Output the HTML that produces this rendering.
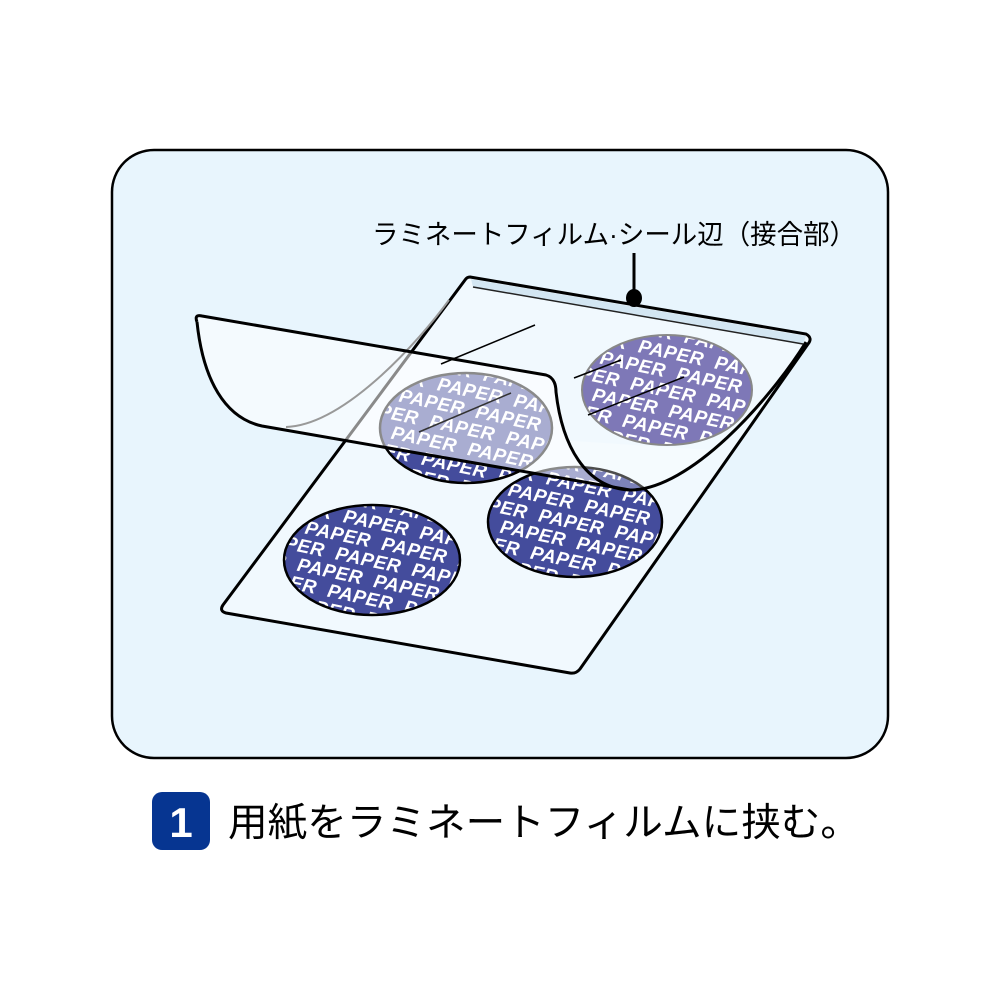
<!DOCTYPE html>
<html><head><meta charset="utf-8"><style>
html,body{margin:0;padding:0;background:#fff;}
svg{display:block;}
.pp{font-family:"Liberation Sans",sans-serif;font-weight:bold;font-style:italic;font-size:19px;fill:#fff;letter-spacing:0.5px;}
</style></head><body>
<svg width="1000" height="1000" viewBox="0 0 1000 1000" xmlns="http://www.w3.org/2000/svg">
<defs>
<clipPath id="c1"><ellipse cx="466" cy="428" rx="86" ry="55"/></clipPath>
<clipPath id="c2"><ellipse cx="667" cy="390" rx="85" ry="55"/></clipPath>
<clipPath id="c3"><ellipse cx="372" cy="560" rx="88" ry="55"/></clipPath>
<clipPath id="c4"><ellipse cx="575" cy="522" rx="87" ry="55"/></clipPath>
<g id="rows">
<text x="-150" y="-50">PAPER&#160;&#160;PAPER&#160;&#160;PAPER&#160;&#160;PAPER</text>
<text x="-115" y="-31">PAPER&#160;&#160;PAPER&#160;&#160;PAPER&#160;&#160;PAPER</text>
<text x="-150" y="-12">PAPER&#160;&#160;PAPER&#160;&#160;PAPER&#160;&#160;PAPER</text>
<text x="-115" y="7">PAPER&#160;&#160;PAPER&#160;&#160;PAPER&#160;&#160;PAPER</text>
<text x="-150" y="26">PAPER&#160;&#160;PAPER&#160;&#160;PAPER&#160;&#160;PAPER</text>
<text x="-115" y="45">PAPER&#160;&#160;PAPER&#160;&#160;PAPER&#160;&#160;PAPER</text>
<text x="-150" y="64">PAPER&#160;&#160;PAPER&#160;&#160;PAPER&#160;&#160;PAPER</text>
</g>
</defs>
<rect x="112" y="150" width="776" height="608" rx="42" fill="#e8f5fd" stroke="#000" stroke-width="2.5"/>
<text x="372" y="244" font-family="'Liberation Sans','Noto Sans CJK JP',sans-serif" font-size="27" textLength="484" lengthAdjust="spacingAndGlyphs">ラミネートフィルム·シール辺（接合部）</text>
<path d="M470,277 L806,334 Q813,338 808,344 L580,669 Q576,674 570,673 L226,613 Q219,611 223,605 L465,280 Q467,277 470,277 Z" fill="#f1f9fe" stroke="#000" stroke-width="3"/>
<path d="M471,279 L806,336 L803,344 L473,287 Z" fill="#d3e6f2"/>
<line x1="473" y1="287" x2="803" y2="344" stroke="#222" stroke-width="1.5"/>
<ellipse cx="372" cy="560" rx="88" ry="55" fill="#444c9c"/>
<g clip-path="url(#c3)"><g transform="translate(372 560) rotate(12)" class="pp"><use href="#rows"/></g></g>
<ellipse cx="372" cy="560" rx="88" ry="55" fill="none" stroke="#000" stroke-width="2.5"/>
<ellipse cx="575" cy="522" rx="87" ry="55" fill="#444c9c"/>
<g clip-path="url(#c4)"><g transform="translate(575 522) rotate(12)" class="pp"><use href="#rows"/></g></g>
<ellipse cx="575" cy="522" rx="87" ry="55" fill="none" stroke="#000" stroke-width="2.5"/>
<ellipse cx="466" cy="428" rx="86" ry="55" fill="#444c9c"/>
<g clip-path="url(#c1)"><g transform="translate(466 428) rotate(12)" class="pp"><use href="#rows"/></g></g>
<ellipse cx="466" cy="428" rx="86" ry="55" fill="none" stroke="#000" stroke-width="2.5"/>
<ellipse cx="667" cy="390" rx="85" ry="55" fill="#7e78b7"/>
<g clip-path="url(#c2)"><g transform="translate(667 390) rotate(12)" class="pp"><use href="#rows"/></g></g>
<ellipse cx="667" cy="390" rx="85" ry="55" fill="none" stroke="#888" stroke-width="2"/>
<path d="M556,392 C562,445 585,488 630,490 C660,490 690,470 710,450 L560,440 Z" fill="#fff" fill-opacity="0.3"/>
<path d="M197,316 L546,375 Q556,378 556,392 C562,445 585,488 630,490 L262,426 C225,418 203,380 197,322 Z" fill="#fff" fill-opacity="0.54"/>
<path d="M449,300 C420,340 345,425 286,427" fill="none" stroke="#999" stroke-width="2"/>
<path d="M197,322 Q194,314 202,316 L546,375 Q556,378 556,392 C562,445 585,488 630,490 C690,490 770,400 806,342" fill="none" stroke="#000" stroke-width="3"/>
<path d="M197,322 C203,380 225,418 262,426 L630,490" fill="none" stroke="#000" stroke-width="3"/>
<line x1="535" y1="325" x2="441" y2="364" stroke="#000" stroke-width="1.5"/>
<line x1="621" y1="360" x2="574" y2="378" stroke="#000" stroke-width="1.5"/>
<line x1="684" y1="377" x2="588" y2="415" stroke="#000" stroke-width="1.5"/>
<line x1="511" y1="393" x2="419" y2="432" stroke="#333" stroke-width="1.5"/>
<line x1="634" y1="253" x2="634" y2="298" stroke="#000" stroke-width="3"/>
<ellipse cx="634" cy="298" rx="8" ry="9" fill="#000"/>
<rect x="152" y="792" width="58" height="58" rx="10" fill="#063591"/>
<text x="181" y="837" text-anchor="middle" font-family="'Liberation Sans',sans-serif" font-weight="bold" font-size="42" fill="#fff">1</text>
<text x="228" y="836" font-family="'Liberation Sans','Noto Sans CJK JP',sans-serif" font-size="39" textLength="632" lengthAdjust="spacingAndGlyphs">用紙をラミネートフィルムに挟む。</text>
</svg>
</body></html>
